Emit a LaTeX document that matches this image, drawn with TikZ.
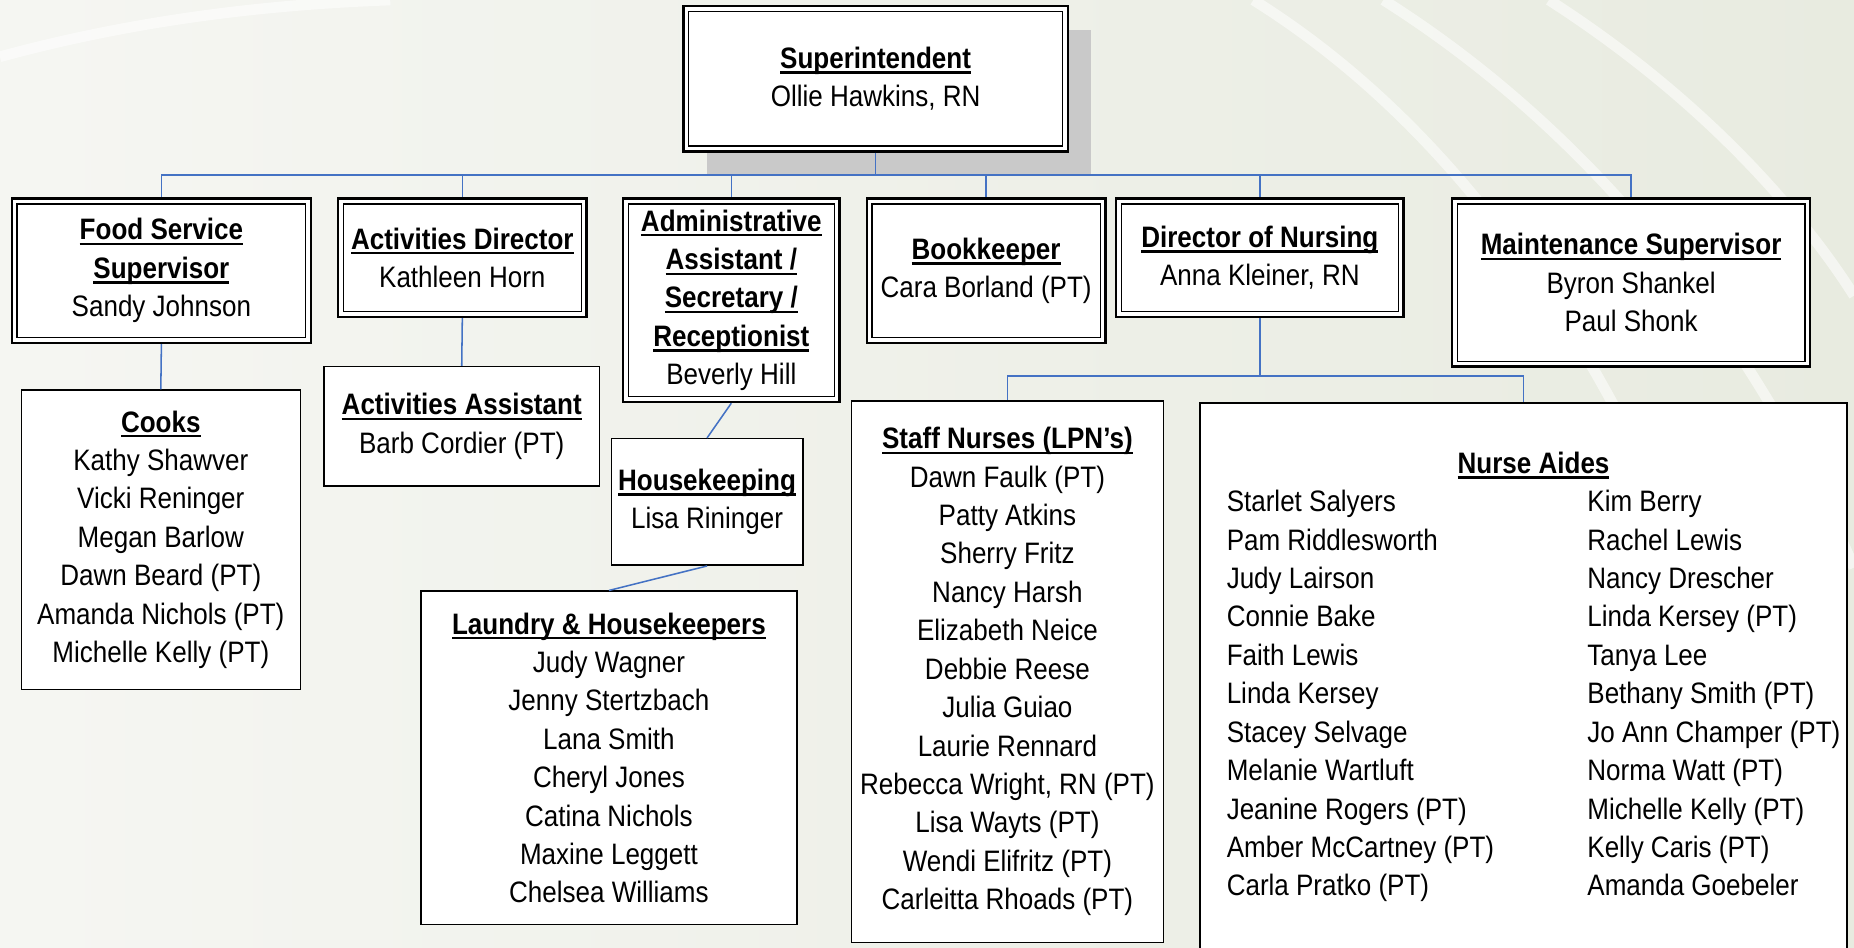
\documentclass[tikz,border=0pt]{standalone}
\usepackage{fontspec}
\setmainfont{Liberation Sans}[FakeStretch=0.88]
\usetikzlibrary{shadows,positioning}
\definecolor{linkblue}{RGB}{68,114,196}
\definecolor{backdrop}{RGB}{239,240,234}
\definecolor{backdropdark}{RGB}{232,235,224}
\tikzstyle{post} = [draw, line width=2pt, fill=white, align=center, inner sep=0pt, font=\fontsize{25}{32.5}\selectfont, path picture={\draw[line width=1.1pt] ([shift={(4.5pt,-4.5pt)}]path picture bounding box.north west) rectangle ([shift={(-4.5pt,4.5pt)}]path picture bounding box.south east);}]
\tikzstyle{chief} = [post, drop shadow={shadow xshift=20pt, shadow yshift=-20pt, fill=black!21, opacity=1}]
\tikzstyle{crew} = [draw, line width=1.3pt, fill=white, align=center, inner sep=0pt, font=\fontsize{25}{32.5}\selectfont]
\tikzstyle{crewlist} = [align=left, inner sep=0pt, font=\fontsize{25}{32.5}\selectfont]
\tikzstyle{link} = [draw, line width=1.3pt, color=linkblue]
\tikzstyle{swoosh} = [draw, white, opacity=0.55, line width=9pt]
\newsavebox{\headingbox}
\newcommand{\heading}[1]{\sbox\headingbox{\bfseries #1}\rlap{\rule[-4.5pt]{\wd\headingbox}{2pt}}\usebox\headingbox}
\newcommand{\chief}[3]{node (h#1) [chief,#2] {#3}}
\newcommand{\post}[3]{node (u#1) [post,#2] {#3}}
\newcommand{\crew}[3]{node (c#1) [crew,#2] {#3}}

\begin{document}
\begin{tikzpicture}[x=1pt,y=-1pt]
\useasboundingbox (0,0) rectangle (1568,801);
\shade [left color=backdrop!60!white, right color=backdropdark] (0,0) rectangle (1568,801);
\path [swoosh] (0,48) .. controls (110,18) and (220,4) .. (330,0);
\path [swoosh] (1060,0) .. controls (1300,150) and (1450,450) .. (1530,801);
\path [swoosh] (1170,0) .. controls (1360,120) and (1490,300) .. (1568,480);
\path [swoosh] (1310,0) .. controls (1450,90) and (1530,190) .. (1568,250);

\path (740.5,66.5) \chief{1}{minimum width=325pt, minimum height=123pt}{\heading{Superintendent}\\Ollie Hawkins, RN};

\path (h1)+(-604,162.5) \post{1}{minimum width=253pt, minimum height=122pt}{\heading{Food Service}\\\heading{Supervisor}\\Sandy Johnson};
\path (u1)+(254.5,-11) \post{2}{minimum width=210pt, minimum height=100pt}{\heading{Activities Director}\\Kathleen Horn};
\path (u2)+(227.5,36) \post{3}{minimum width=183pt, minimum height=172pt}{\heading{Administrative}\\\heading{Assistant /}\\\heading{Secretary /}\\\heading{Receptionist}\\Beverly Hill};
\path (u3)+(215.5,-25) \post{4}{minimum width=202pt, minimum height=122pt}{\heading{Bookkeeper}\\Cara Borland (PT)};
\path (u4)+(231.5,-11) \post{5}{minimum width=243pt, minimum height=100pt}{\heading{Director of Nursing}\\Anna Kleiner, RN};
\path (u5)+(314,21) \post{6}{minimum width=303pt, minimum height=142pt}{\heading{Maintenance Supervisor}\\Byron Shankel\\Paul Shonk};

\path (u1)+(-0.5,227.5) \crew{1}{minimum width=236pt, minimum height=253pt}{\heading{Cooks}\\Kathy Shawver\\Vicki Reninger\\Megan Barlow\\Dawn Beard (PT)\\Amanda Nichols (PT)\\Michelle Kelly (PT)};
\path (u2)+(-0.5,142.5) \crew{2}{minimum width=233pt, minimum height=101pt}{\heading{Activities Assistant}\\Barb Cordier (PT)};
\path (u3)+(-20.5,170.5) \crew{3}{minimum width=162pt, minimum height=107pt}{\heading{Housekeeping}\\Lisa Rininger};
\path (c3)+(-83,216.5) \crew{4}{minimum width=318pt, minimum height=282pt}{\heading{Laundry \& Housekeepers}\\Judy Wagner\\Jenny Stertzbach\\Lana Smith\\Cheryl Jones\\Catina Nichols\\Maxine Leggett\\Chelsea Williams};
\path (u5)+(-213.5,350) \crew{5}{minimum width=264pt, minimum height=458pt}{\heading{Staff Nurses (LPN’s)}\\Dawn Faulk (PT)\\Patty Atkins\\Sherry Fritz\\Nancy Harsh\\Elizabeth Neice\\Debbie Reese\\Julia Guiao\\Laurie Rennard\\Rebecca Wright, RN (PT)\\Lisa Wayts (PT)\\Wendi Elifritz (PT)\\Carleitta Rhoads (PT)};
\path (u5)+(223,360) \crew{6}{minimum width=547pt, minimum height=474pt}{};
\path (c6)+(8.5,-5.5) node (a1) [crewlist] {\begin{tabular}{@{}p{305pt}@{}l@{}}
\multicolumn{2}{c}{\heading{Nurse Aides}}\\
Starlet Salyers & Kim Berry\\
Pam Riddlesworth & Rachel Lewis\\
Judy Lairson & Nancy Drescher\\
Connie Bake & Linda Kersey (PT)\\
Faith Lewis & Tanya Lee\\
Linda Kersey & Bethany Smith (PT)\\
Stacey Selvage & Jo Ann Champer (PT)\\
Melanie Wartluft & Norma Watt (PT)\\
Jeanine Rogers (PT) & Michelle Kelly (PT)\\
Amber McCartney (PT) & Kelly Caris (PT)\\
Carla Pratko (PT) & Amanda Goebeler
\end{tabular}};

% top level bus
\coordinate (b1) at (740.5,148);
\path [link] (h1.south) -- (b1);
\foreach \i in {1,...,6}
  \path [link] (b1) -| (u\i.north);

\path [link] (u1.south) -- (c1.north);
\path [link] (u2.south) -- (c2.north);
\path [link] (u3.south) -- (c3.north);
\path [link] (c3.south) -- (c4.north);

% nursing split
\coordinate (b2) at (1065.5,318);
\path [link] (u5.south) -- (b2);
\path [link] (b2) -| (c5.north);
\path [link] (b2) -| (c6.north);
\end{tikzpicture}
\end{document}
